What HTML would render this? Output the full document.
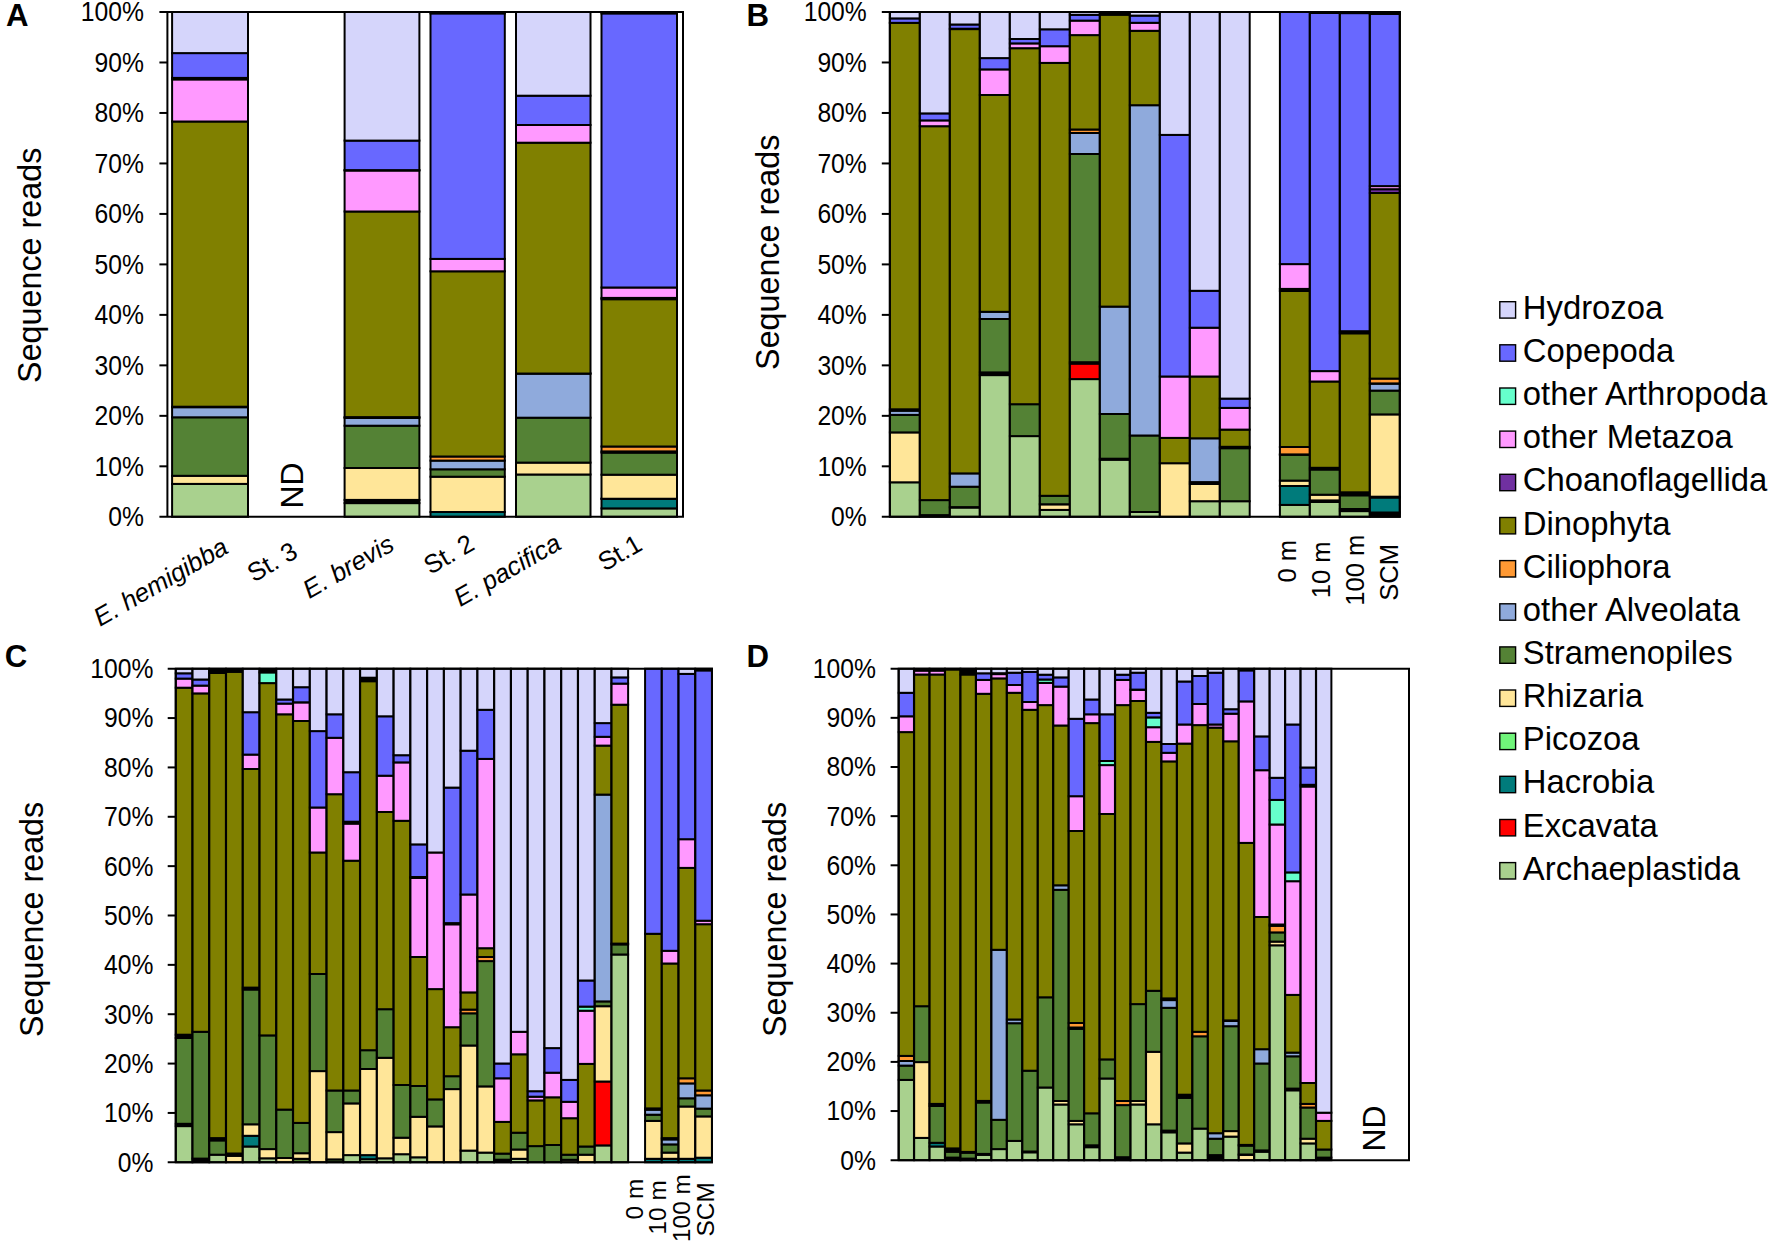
<!DOCTYPE html>
<html lang="en"><head><meta charset="utf-8"><title>Figure</title>
<style>html,body{margin:0;padding:0;background:#fff}svg{display:block}</style></head>
<body>
<svg width="1772" height="1245" viewBox="0 0 1772 1245">
<rect width="1772" height="1245" fill="#fff"/>
<g stroke="#000" stroke-width="2.0">
<rect x="172.10" y="483.90" width="75.90" height="32.90" fill="#A9D18E"/>
<rect x="172.10" y="475.80" width="75.90" height="8.10" fill="#FFE699"/>
<rect x="172.10" y="417.30" width="75.90" height="58.50" fill="#548235"/>
<rect x="172.10" y="407.20" width="75.90" height="10.10" fill="#8FAADC"/>
<rect x="172.10" y="406.70" width="75.90" height="0.50" fill="#000000"/>
<rect x="172.10" y="121.50" width="75.90" height="285.20" fill="#808000"/>
<rect x="172.10" y="79.40" width="75.90" height="42.10" fill="#FF99FF"/>
<rect x="172.10" y="77.90" width="75.90" height="1.50" fill="#000000"/>
<rect x="172.10" y="53.10" width="75.90" height="24.80" fill="#6868FF"/>
<rect x="172.10" y="12.00" width="75.90" height="41.10" fill="#D5D5FB"/>
<rect x="344.60" y="503.10" width="74.80" height="13.70" fill="#A9D18E"/>
<rect x="344.60" y="499.90" width="74.80" height="3.20" fill="#000000"/>
<rect x="344.60" y="468.00" width="74.80" height="31.90" fill="#FFE699"/>
<rect x="344.60" y="425.70" width="74.80" height="42.30" fill="#548235"/>
<rect x="344.60" y="417.90" width="74.80" height="7.80" fill="#8FAADC"/>
<rect x="344.60" y="417.10" width="74.80" height="0.80" fill="#000000"/>
<rect x="344.60" y="211.50" width="74.80" height="205.60" fill="#808000"/>
<rect x="344.60" y="170.50" width="74.80" height="41.00" fill="#FF99FF"/>
<rect x="344.60" y="170.10" width="74.80" height="0.40" fill="#000000"/>
<rect x="344.60" y="140.60" width="74.80" height="29.50" fill="#6868FF"/>
<rect x="344.60" y="12.00" width="74.80" height="128.60" fill="#D5D5FB"/>
<rect x="430.50" y="512.00" width="74.30" height="4.80" fill="#007B7B"/>
<rect x="430.50" y="476.70" width="74.30" height="35.30" fill="#FFE699"/>
<rect x="430.50" y="469.30" width="74.30" height="7.40" fill="#548235"/>
<rect x="430.50" y="460.60" width="74.30" height="8.70" fill="#8FAADC"/>
<rect x="430.50" y="456.50" width="74.30" height="4.10" fill="#FF9933"/>
<rect x="430.50" y="271.30" width="74.30" height="185.20" fill="#808000"/>
<rect x="430.50" y="258.90" width="74.30" height="12.40" fill="#FF99FF"/>
<rect x="430.50" y="13.40" width="74.30" height="245.50" fill="#6868FF"/>
<rect x="430.50" y="12.00" width="74.30" height="1.40" fill="#000000"/>
<rect x="516.00" y="474.50" width="74.50" height="42.30" fill="#A9D18E"/>
<rect x="516.00" y="462.60" width="74.50" height="11.90" fill="#FFE699"/>
<rect x="516.00" y="417.70" width="74.50" height="44.90" fill="#548235"/>
<rect x="516.00" y="373.56" width="74.50" height="44.14" fill="#8FAADC"/>
<rect x="516.00" y="373.54" width="74.50" height="0.02" fill="#000000"/>
<rect x="516.00" y="142.70" width="74.50" height="230.84" fill="#808000"/>
<rect x="516.00" y="125.00" width="74.50" height="17.70" fill="#FF99FF"/>
<rect x="516.00" y="95.70" width="74.50" height="29.30" fill="#6868FF"/>
<rect x="516.00" y="12.00" width="74.50" height="83.70" fill="#D5D5FB"/>
<rect x="601.50" y="508.40" width="75.50" height="8.40" fill="#A9D18E"/>
<rect x="601.50" y="498.76" width="75.50" height="9.64" fill="#007B7B"/>
<rect x="601.50" y="498.74" width="75.50" height="0.02" fill="#000000"/>
<rect x="601.50" y="474.70" width="75.50" height="24.04" fill="#FFE699"/>
<rect x="601.50" y="452.60" width="75.50" height="22.10" fill="#548235"/>
<rect x="601.50" y="451.40" width="75.50" height="1.20" fill="#000000"/>
<rect x="601.50" y="446.50" width="75.50" height="4.90" fill="#FF9933"/>
<rect x="601.50" y="299.20" width="75.50" height="147.30" fill="#808000"/>
<rect x="601.50" y="297.90" width="75.50" height="1.30" fill="#000000"/>
<rect x="601.50" y="287.50" width="75.50" height="10.40" fill="#FF99FF"/>
<rect x="601.50" y="13.40" width="75.50" height="274.10" fill="#6868FF"/>
<rect x="601.50" y="12.00" width="75.50" height="1.40" fill="#000000"/>
</g>
<g stroke="#000" stroke-width="2" fill="none">
<path d="M159.40 12.00H683.00V516.80H159.40"/>
<path d="M167.40 12.00V516.80"/>
<path d="M159.40 466.32H167.40"/>
<path d="M159.40 415.84H167.40"/>
<path d="M159.40 365.36H167.40"/>
<path d="M159.40 314.88H167.40"/>
<path d="M159.40 264.40H167.40"/>
<path d="M159.40 213.92H167.40"/>
<path d="M159.40 163.44H167.40"/>
<path d="M159.40 112.96H167.40"/>
<path d="M159.40 62.48H167.40"/>
</g>
<g font-family="'Liberation Sans', Arial, sans-serif" font-size="27" text-anchor="end" fill="#000">
<text transform="translate(143.9 526.2) scale(0.915 1)">0%</text>
<text transform="translate(143.9 475.7) scale(0.915 1)">10%</text>
<text transform="translate(143.9 425.2) scale(0.915 1)">20%</text>
<text transform="translate(143.9 374.7) scale(0.915 1)">30%</text>
<text transform="translate(143.9 324.2) scale(0.915 1)">40%</text>
<text transform="translate(143.9 273.8) scale(0.915 1)">50%</text>
<text transform="translate(143.9 223.3) scale(0.915 1)">60%</text>
<text transform="translate(143.9 172.8) scale(0.915 1)">70%</text>
<text transform="translate(143.9 122.3) scale(0.915 1)">80%</text>
<text transform="translate(143.9 71.8) scale(0.915 1)">90%</text>
<text transform="translate(143.9 21.4) scale(0.915 1)">100%</text>
</g>
<g stroke="#000" stroke-width="2.0">
<rect x="889.90" y="482.30" width="29.80" height="34.50" fill="#A9D18E"/>
<rect x="889.90" y="432.40" width="29.80" height="49.90" fill="#FFE699"/>
<rect x="889.90" y="414.90" width="29.80" height="17.50" fill="#548235"/>
<rect x="889.90" y="410.70" width="29.80" height="4.20" fill="#8FAADC"/>
<rect x="889.90" y="409.30" width="29.80" height="1.40" fill="#000000"/>
<rect x="889.90" y="22.86" width="29.80" height="386.44" fill="#808000"/>
<rect x="889.90" y="22.84" width="29.80" height="0.02" fill="#000000"/>
<rect x="889.90" y="18.40" width="29.80" height="4.44" fill="#6868FF"/>
<rect x="889.90" y="12.00" width="29.80" height="6.40" fill="#D5D5FB"/>
<rect x="919.90" y="515.10" width="29.80" height="1.70" fill="#000000"/>
<rect x="919.90" y="500.10" width="29.80" height="15.00" fill="#548235"/>
<rect x="919.90" y="126.20" width="29.80" height="373.90" fill="#808000"/>
<rect x="919.90" y="120.40" width="29.80" height="5.80" fill="#FF99FF"/>
<rect x="919.90" y="113.40" width="29.80" height="7.00" fill="#6868FF"/>
<rect x="919.90" y="12.00" width="29.80" height="101.40" fill="#D5D5FB"/>
<rect x="949.90" y="507.50" width="29.80" height="9.30" fill="#A9D18E"/>
<rect x="949.90" y="507.10" width="29.80" height="0.40" fill="#000000"/>
<rect x="949.90" y="486.70" width="29.80" height="20.40" fill="#548235"/>
<rect x="949.90" y="473.40" width="29.80" height="13.30" fill="#8FAADC"/>
<rect x="949.90" y="29.10" width="29.80" height="444.30" fill="#808000"/>
<rect x="949.90" y="28.70" width="29.80" height="0.40" fill="#000000"/>
<rect x="949.90" y="24.50" width="29.80" height="4.20" fill="#6868FF"/>
<rect x="949.90" y="12.00" width="29.80" height="12.50" fill="#D5D5FB"/>
<rect x="979.90" y="375.10" width="29.80" height="141.70" fill="#A9D18E"/>
<rect x="979.90" y="372.40" width="29.80" height="2.70" fill="#000000"/>
<rect x="979.90" y="319.00" width="29.80" height="53.40" fill="#548235"/>
<rect x="979.90" y="311.80" width="29.80" height="7.20" fill="#8FAADC"/>
<rect x="979.90" y="95.00" width="29.80" height="216.80" fill="#808000"/>
<rect x="979.90" y="69.40" width="29.80" height="25.60" fill="#FF99FF"/>
<rect x="979.90" y="58.10" width="29.80" height="11.30" fill="#6868FF"/>
<rect x="979.90" y="12.00" width="29.80" height="46.10" fill="#D5D5FB"/>
<rect x="1009.90" y="436.10" width="29.80" height="80.70" fill="#A9D18E"/>
<rect x="1009.90" y="404.20" width="29.80" height="31.90" fill="#548235"/>
<rect x="1009.90" y="48.20" width="29.80" height="356.00" fill="#808000"/>
<rect x="1009.90" y="43.40" width="29.80" height="4.80" fill="#FF99FF"/>
<rect x="1009.90" y="39.00" width="29.80" height="4.40" fill="#6868FF"/>
<rect x="1009.90" y="12.00" width="29.80" height="27.00" fill="#D5D5FB"/>
<rect x="1039.90" y="509.90" width="29.80" height="6.90" fill="#A9D18E"/>
<rect x="1039.90" y="504.26" width="29.80" height="5.64" fill="#FFE699"/>
<rect x="1039.90" y="504.24" width="29.80" height="0.02" fill="#000000"/>
<rect x="1039.90" y="495.80" width="29.80" height="8.44" fill="#548235"/>
<rect x="1039.90" y="62.90" width="29.80" height="432.90" fill="#808000"/>
<rect x="1039.90" y="46.20" width="29.80" height="16.70" fill="#FF99FF"/>
<rect x="1039.90" y="29.30" width="29.80" height="16.90" fill="#6868FF"/>
<rect x="1039.90" y="12.00" width="29.80" height="17.30" fill="#D5D5FB"/>
<rect x="1069.90" y="379.10" width="29.80" height="137.70" fill="#A9D18E"/>
<rect x="1069.90" y="363.60" width="29.80" height="15.50" fill="#FF0000"/>
<rect x="1069.90" y="362.20" width="29.80" height="1.40" fill="#000000"/>
<rect x="1069.90" y="154.00" width="29.80" height="208.20" fill="#548235"/>
<rect x="1069.90" y="133.00" width="29.80" height="21.00" fill="#8FAADC"/>
<rect x="1069.90" y="129.50" width="29.80" height="3.50" fill="#FF9933"/>
<rect x="1069.90" y="35.10" width="29.80" height="94.40" fill="#808000"/>
<rect x="1069.90" y="20.60" width="29.80" height="14.50" fill="#FF99FF"/>
<rect x="1069.90" y="14.80" width="29.80" height="5.80" fill="#6868FF"/>
<rect x="1069.90" y="12.00" width="29.80" height="2.80" fill="#D5D5FB"/>
<rect x="1099.90" y="459.70" width="29.80" height="57.10" fill="#A9D18E"/>
<rect x="1099.90" y="458.70" width="29.80" height="1.00" fill="#000000"/>
<rect x="1099.90" y="414.00" width="29.80" height="44.70" fill="#548235"/>
<rect x="1099.90" y="306.60" width="29.80" height="107.40" fill="#8FAADC"/>
<rect x="1099.90" y="14.70" width="29.80" height="291.90" fill="#808000"/>
<rect x="1099.90" y="12.00" width="29.80" height="2.70" fill="#000000"/>
<rect x="1129.90" y="512.00" width="29.80" height="4.80" fill="#A9D18E"/>
<rect x="1129.90" y="435.50" width="29.80" height="76.50" fill="#548235"/>
<rect x="1129.90" y="105.20" width="29.80" height="330.30" fill="#8FAADC"/>
<rect x="1129.90" y="30.80" width="29.80" height="74.40" fill="#808000"/>
<rect x="1129.90" y="22.80" width="29.80" height="8.00" fill="#FF99FF"/>
<rect x="1129.90" y="15.60" width="29.80" height="7.20" fill="#6868FF"/>
<rect x="1129.90" y="12.00" width="29.80" height="3.60" fill="#D5D5FB"/>
<rect x="1159.90" y="463.20" width="29.80" height="53.60" fill="#FFE699"/>
<rect x="1159.90" y="437.90" width="29.80" height="25.30" fill="#808000"/>
<rect x="1159.90" y="376.50" width="29.80" height="61.40" fill="#FF99FF"/>
<rect x="1159.90" y="134.90" width="29.80" height="241.60" fill="#6868FF"/>
<rect x="1159.90" y="12.00" width="29.80" height="122.90" fill="#D5D5FB"/>
<rect x="1189.90" y="501.20" width="29.80" height="15.60" fill="#A9D18E"/>
<rect x="1189.90" y="484.00" width="29.80" height="17.20" fill="#FFE699"/>
<rect x="1189.90" y="482.10" width="29.80" height="1.90" fill="#000000"/>
<rect x="1189.90" y="438.30" width="29.80" height="43.80" fill="#8FAADC"/>
<rect x="1189.90" y="376.50" width="29.80" height="61.80" fill="#808000"/>
<rect x="1189.90" y="327.70" width="29.80" height="48.80" fill="#FF99FF"/>
<rect x="1189.90" y="290.80" width="29.80" height="36.90" fill="#6868FF"/>
<rect x="1189.90" y="12.00" width="29.80" height="278.80" fill="#D5D5FB"/>
<rect x="1219.90" y="501.20" width="29.80" height="15.60" fill="#A9D18E"/>
<rect x="1219.90" y="448.20" width="29.80" height="53.00" fill="#548235"/>
<rect x="1219.90" y="446.80" width="29.80" height="1.40" fill="#000000"/>
<rect x="1219.90" y="429.60" width="29.80" height="17.20" fill="#808000"/>
<rect x="1219.90" y="407.90" width="29.80" height="21.70" fill="#FF99FF"/>
<rect x="1219.90" y="398.60" width="29.80" height="9.30" fill="#6868FF"/>
<rect x="1219.90" y="12.00" width="29.80" height="386.60" fill="#D5D5FB"/>
<rect x="1279.90" y="504.90" width="29.80" height="11.90" fill="#A9D18E"/>
<rect x="1279.90" y="486.00" width="29.80" height="18.90" fill="#007B7B"/>
<rect x="1279.90" y="480.60" width="29.80" height="5.40" fill="#FFE699"/>
<rect x="1279.90" y="454.70" width="29.80" height="25.90" fill="#548235"/>
<rect x="1279.90" y="454.40" width="29.80" height="0.30" fill="#000000"/>
<rect x="1279.90" y="447.00" width="29.80" height="7.40" fill="#FF9933"/>
<rect x="1279.90" y="291.00" width="29.80" height="156.00" fill="#808000"/>
<rect x="1279.90" y="288.90" width="29.80" height="2.10" fill="#000000"/>
<rect x="1279.90" y="264.10" width="29.80" height="24.80" fill="#FF99FF"/>
<rect x="1279.90" y="12.00" width="29.80" height="252.10" fill="#6868FF"/>
<rect x="1309.90" y="502.00" width="29.80" height="14.80" fill="#A9D18E"/>
<rect x="1309.90" y="500.40" width="29.80" height="1.60" fill="#000000"/>
<rect x="1309.90" y="494.70" width="29.80" height="5.70" fill="#FFE699"/>
<rect x="1309.90" y="469.50" width="29.80" height="25.20" fill="#548235"/>
<rect x="1309.90" y="467.80" width="29.80" height="1.70" fill="#000000"/>
<rect x="1309.90" y="381.50" width="29.80" height="86.30" fill="#808000"/>
<rect x="1309.90" y="371.10" width="29.80" height="10.40" fill="#FF99FF"/>
<rect x="1309.90" y="13.00" width="29.80" height="358.10" fill="#6868FF"/>
<rect x="1339.90" y="511.10" width="29.80" height="5.70" fill="#A9D18E"/>
<rect x="1339.90" y="509.00" width="29.80" height="2.10" fill="#000000"/>
<rect x="1339.90" y="495.30" width="29.80" height="13.70" fill="#548235"/>
<rect x="1339.90" y="492.30" width="29.80" height="3.00" fill="#000000"/>
<rect x="1339.90" y="333.30" width="29.80" height="159.00" fill="#808000"/>
<rect x="1339.90" y="331.20" width="29.80" height="2.10" fill="#000000"/>
<rect x="1339.90" y="13.10" width="29.80" height="318.10" fill="#6868FF"/>
<rect x="1339.90" y="12.00" width="29.80" height="1.10" fill="#000000"/>
<rect x="1369.90" y="512.50" width="29.80" height="4.30" fill="#000000"/>
<rect x="1369.90" y="497.50" width="29.80" height="15.00" fill="#007B7B"/>
<rect x="1369.90" y="496.70" width="29.80" height="0.80" fill="#000000"/>
<rect x="1369.90" y="414.40" width="29.80" height="82.30" fill="#FFE699"/>
<rect x="1369.90" y="390.60" width="29.80" height="23.80" fill="#548235"/>
<rect x="1369.90" y="383.60" width="29.80" height="7.00" fill="#8FAADC"/>
<rect x="1369.90" y="383.40" width="29.80" height="0.20" fill="#000000"/>
<rect x="1369.90" y="378.60" width="29.80" height="4.80" fill="#FF9933"/>
<rect x="1369.90" y="193.00" width="29.80" height="185.60" fill="#808000"/>
<rect x="1369.90" y="189.20" width="29.80" height="3.80" fill="#7030A0"/>
<rect x="1369.90" y="186.10" width="29.80" height="3.10" fill="#FF99FF"/>
<rect x="1369.90" y="13.90" width="29.80" height="172.20" fill="#6868FF"/>
<rect x="1369.90" y="12.00" width="29.80" height="1.90" fill="#000000"/>
</g>
<g stroke="#000" stroke-width="2" fill="none">
<path d="M881.80 12.00H1399.90V516.80H881.80"/>
<path d="M889.80 12.00V516.80"/>
<path d="M881.80 466.32H889.80"/>
<path d="M881.80 415.84H889.80"/>
<path d="M881.80 365.36H889.80"/>
<path d="M881.80 314.88H889.80"/>
<path d="M881.80 264.40H889.80"/>
<path d="M881.80 213.92H889.80"/>
<path d="M881.80 163.44H889.80"/>
<path d="M881.80 112.96H889.80"/>
<path d="M881.80 62.48H889.80"/>
</g>
<g font-family="'Liberation Sans', Arial, sans-serif" font-size="27" text-anchor="end" fill="#000">
<text transform="translate(866.8 526.2) scale(0.915 1)">0%</text>
<text transform="translate(866.8 475.7) scale(0.915 1)">10%</text>
<text transform="translate(866.8 425.2) scale(0.915 1)">20%</text>
<text transform="translate(866.8 374.7) scale(0.915 1)">30%</text>
<text transform="translate(866.8 324.2) scale(0.915 1)">40%</text>
<text transform="translate(866.8 273.8) scale(0.915 1)">50%</text>
<text transform="translate(866.8 223.3) scale(0.915 1)">60%</text>
<text transform="translate(866.8 172.8) scale(0.915 1)">70%</text>
<text transform="translate(866.8 122.3) scale(0.915 1)">80%</text>
<text transform="translate(866.8 71.8) scale(0.915 1)">90%</text>
<text transform="translate(866.8 21.4) scale(0.915 1)">100%</text>
</g>
<g stroke="#000" stroke-width="2.0">
<rect x="175.80" y="1126.10" width="16.56" height="36.20" fill="#A9D18E"/>
<rect x="175.80" y="1123.80" width="16.56" height="2.30" fill="#000000"/>
<rect x="175.80" y="1038.00" width="16.56" height="85.80" fill="#548235"/>
<rect x="175.80" y="1034.70" width="16.56" height="3.30" fill="#000000"/>
<rect x="175.80" y="687.70" width="16.56" height="347.00" fill="#808000"/>
<rect x="175.80" y="678.60" width="16.56" height="9.10" fill="#FF99FF"/>
<rect x="175.80" y="673.30" width="16.56" height="5.30" fill="#6868FF"/>
<rect x="175.80" y="668.70" width="16.56" height="4.60" fill="#D5D5FB"/>
<rect x="192.56" y="1158.60" width="16.56" height="3.70" fill="#000000"/>
<rect x="192.56" y="1031.80" width="16.56" height="126.80" fill="#548235"/>
<rect x="192.56" y="693.40" width="16.56" height="338.40" fill="#808000"/>
<rect x="192.56" y="685.60" width="16.56" height="7.80" fill="#FF99FF"/>
<rect x="192.56" y="679.50" width="16.56" height="6.10" fill="#6868FF"/>
<rect x="192.56" y="668.70" width="16.56" height="10.80" fill="#D5D5FB"/>
<rect x="209.32" y="1154.70" width="16.56" height="7.60" fill="#A9D18E"/>
<rect x="209.32" y="1140.40" width="16.56" height="14.30" fill="#548235"/>
<rect x="209.32" y="1138.10" width="16.56" height="2.30" fill="#000000"/>
<rect x="209.32" y="673.00" width="16.56" height="465.10" fill="#808000"/>
<rect x="209.32" y="668.70" width="16.56" height="4.30" fill="#000000"/>
<rect x="226.08" y="1155.80" width="16.56" height="6.50" fill="#FFE699"/>
<rect x="226.08" y="1153.50" width="16.56" height="2.30" fill="#000000"/>
<rect x="226.08" y="671.80" width="16.56" height="481.70" fill="#808000"/>
<rect x="226.08" y="668.70" width="16.56" height="3.10" fill="#000000"/>
<rect x="242.84" y="1146.50" width="16.56" height="15.80" fill="#A9D18E"/>
<rect x="242.84" y="1135.80" width="16.56" height="10.70" fill="#007B7B"/>
<rect x="242.84" y="1124.30" width="16.56" height="11.50" fill="#FFE699"/>
<rect x="242.84" y="989.50" width="16.56" height="134.80" fill="#548235"/>
<rect x="242.84" y="987.60" width="16.56" height="1.90" fill="#000000"/>
<rect x="242.84" y="769.00" width="16.56" height="218.60" fill="#808000"/>
<rect x="242.84" y="754.60" width="16.56" height="14.40" fill="#FF99FF"/>
<rect x="242.84" y="712.20" width="16.56" height="42.40" fill="#6868FF"/>
<rect x="242.84" y="668.70" width="16.56" height="43.50" fill="#D5D5FB"/>
<rect x="259.60" y="1158.30" width="16.56" height="4.00" fill="#A9D18E"/>
<rect x="259.60" y="1149.10" width="16.56" height="9.20" fill="#FFE699"/>
<rect x="259.60" y="1035.40" width="16.56" height="113.70" fill="#548235"/>
<rect x="259.60" y="683.10" width="16.56" height="352.30" fill="#808000"/>
<rect x="259.60" y="672.40" width="16.56" height="10.70" fill="#66FFCC"/>
<rect x="259.60" y="668.70" width="16.56" height="3.70" fill="#000000"/>
<rect x="276.36" y="1158.00" width="16.56" height="4.30" fill="#FFE699"/>
<rect x="276.36" y="1109.60" width="16.56" height="48.40" fill="#548235"/>
<rect x="276.36" y="714.30" width="16.56" height="395.30" fill="#808000"/>
<rect x="276.36" y="703.60" width="16.56" height="10.70" fill="#FF99FF"/>
<rect x="276.36" y="699.50" width="16.56" height="4.10" fill="#6868FF"/>
<rect x="276.36" y="668.70" width="16.56" height="30.80" fill="#D5D5FB"/>
<rect x="293.12" y="1158.80" width="16.56" height="3.50" fill="#548235"/>
<rect x="293.12" y="1153.20" width="16.56" height="5.60" fill="#FFE699"/>
<rect x="293.12" y="1122.90" width="16.56" height="30.30" fill="#548235"/>
<rect x="293.12" y="721.00" width="16.56" height="401.90" fill="#808000"/>
<rect x="293.12" y="702.31" width="16.56" height="18.69" fill="#FF99FF"/>
<rect x="293.12" y="702.29" width="16.56" height="0.02" fill="#000000"/>
<rect x="293.12" y="687.20" width="16.56" height="15.09" fill="#6868FF"/>
<rect x="293.12" y="668.70" width="16.56" height="18.50" fill="#D5D5FB"/>
<rect x="309.88" y="1071.10" width="16.56" height="91.20" fill="#FFE699"/>
<rect x="309.88" y="974.00" width="16.56" height="97.10" fill="#548235"/>
<rect x="309.88" y="852.50" width="16.56" height="121.50" fill="#808000"/>
<rect x="309.88" y="807.50" width="16.56" height="45.00" fill="#FF99FF"/>
<rect x="309.88" y="731.10" width="16.56" height="76.40" fill="#6868FF"/>
<rect x="309.88" y="668.70" width="16.56" height="62.40" fill="#D5D5FB"/>
<rect x="326.64" y="1159.40" width="16.56" height="2.90" fill="#548235"/>
<rect x="326.64" y="1132.10" width="16.56" height="27.30" fill="#FFE699"/>
<rect x="326.64" y="1090.50" width="16.56" height="41.60" fill="#548235"/>
<rect x="326.64" y="794.20" width="16.56" height="296.30" fill="#808000"/>
<rect x="326.64" y="737.80" width="16.56" height="56.40" fill="#FF99FF"/>
<rect x="326.64" y="714.30" width="16.56" height="23.50" fill="#6868FF"/>
<rect x="326.64" y="668.70" width="16.56" height="45.60" fill="#D5D5FB"/>
<rect x="343.40" y="1155.10" width="16.56" height="7.20" fill="#A9D18E"/>
<rect x="343.40" y="1103.40" width="16.56" height="51.70" fill="#FFE699"/>
<rect x="343.40" y="1090.50" width="16.56" height="12.90" fill="#548235"/>
<rect x="343.40" y="860.70" width="16.56" height="229.80" fill="#808000"/>
<rect x="343.40" y="823.60" width="16.56" height="37.10" fill="#FF99FF"/>
<rect x="343.40" y="821.70" width="16.56" height="1.90" fill="#000000"/>
<rect x="343.40" y="772.20" width="16.56" height="49.50" fill="#6868FF"/>
<rect x="343.40" y="668.70" width="16.56" height="103.50" fill="#D5D5FB"/>
<rect x="360.16" y="1159.20" width="16.56" height="3.10" fill="#A9D18E"/>
<rect x="360.16" y="1155.10" width="16.56" height="4.10" fill="#007B7B"/>
<rect x="360.16" y="1069.00" width="16.56" height="86.10" fill="#FFE699"/>
<rect x="360.16" y="1050.20" width="16.56" height="18.80" fill="#548235"/>
<rect x="360.16" y="681.20" width="16.56" height="369.00" fill="#808000"/>
<rect x="360.16" y="677.70" width="16.56" height="3.50" fill="#000000"/>
<rect x="360.16" y="668.70" width="16.56" height="9.00" fill="#D5D5FB"/>
<rect x="376.92" y="1158.30" width="16.56" height="4.00" fill="#A9D18E"/>
<rect x="376.92" y="1057.80" width="16.56" height="100.50" fill="#FFE699"/>
<rect x="376.92" y="1009.20" width="16.56" height="48.60" fill="#548235"/>
<rect x="376.92" y="812.00" width="16.56" height="197.20" fill="#808000"/>
<rect x="376.92" y="775.70" width="16.56" height="36.30" fill="#FF99FF"/>
<rect x="376.92" y="716.30" width="16.56" height="59.40" fill="#6868FF"/>
<rect x="376.92" y="668.70" width="16.56" height="47.60" fill="#D5D5FB"/>
<rect x="393.68" y="1154.20" width="16.56" height="8.10" fill="#A9D18E"/>
<rect x="393.68" y="1137.70" width="16.56" height="16.50" fill="#FFE699"/>
<rect x="393.68" y="1085.00" width="16.56" height="52.70" fill="#548235"/>
<rect x="393.68" y="820.80" width="16.56" height="264.20" fill="#808000"/>
<rect x="393.68" y="762.40" width="16.56" height="58.40" fill="#FF99FF"/>
<rect x="393.68" y="755.20" width="16.56" height="7.20" fill="#6868FF"/>
<rect x="393.68" y="668.70" width="16.56" height="86.50" fill="#D5D5FB"/>
<rect x="410.44" y="1157.30" width="16.56" height="5.00" fill="#A9D18E"/>
<rect x="410.44" y="1116.80" width="16.56" height="40.50" fill="#FFE699"/>
<rect x="410.44" y="1086.00" width="16.56" height="30.80" fill="#548235"/>
<rect x="410.44" y="957.00" width="16.56" height="129.00" fill="#808000"/>
<rect x="410.44" y="877.90" width="16.56" height="79.10" fill="#FF99FF"/>
<rect x="410.44" y="877.00" width="16.56" height="0.90" fill="#000000"/>
<rect x="410.44" y="844.40" width="16.56" height="32.60" fill="#6868FF"/>
<rect x="410.44" y="668.70" width="16.56" height="175.70" fill="#D5D5FB"/>
<rect x="427.20" y="1126.40" width="16.56" height="35.90" fill="#FFE699"/>
<rect x="427.20" y="1099.40" width="16.56" height="27.00" fill="#548235"/>
<rect x="427.20" y="989.10" width="16.56" height="110.30" fill="#808000"/>
<rect x="427.20" y="852.50" width="16.56" height="136.60" fill="#FF99FF"/>
<rect x="427.20" y="668.70" width="16.56" height="183.80" fill="#D5D5FB"/>
<rect x="443.96" y="1089.10" width="16.56" height="73.20" fill="#FFE699"/>
<rect x="443.96" y="1076.20" width="16.56" height="12.90" fill="#548235"/>
<rect x="443.96" y="1027.20" width="16.56" height="49.00" fill="#808000"/>
<rect x="443.96" y="924.30" width="16.56" height="102.90" fill="#FF99FF"/>
<rect x="443.96" y="923.10" width="16.56" height="1.20" fill="#000000"/>
<rect x="443.96" y="787.60" width="16.56" height="135.50" fill="#6868FF"/>
<rect x="443.96" y="668.70" width="16.56" height="118.90" fill="#D5D5FB"/>
<rect x="460.72" y="1150.60" width="16.56" height="11.70" fill="#A9D18E"/>
<rect x="460.72" y="1045.50" width="16.56" height="105.10" fill="#FFE699"/>
<rect x="460.72" y="1013.30" width="16.56" height="32.20" fill="#548235"/>
<rect x="460.72" y="1009.60" width="16.56" height="3.70" fill="#FF9933"/>
<rect x="460.72" y="992.40" width="16.56" height="17.20" fill="#808000"/>
<rect x="460.72" y="894.50" width="16.56" height="97.90" fill="#FF99FF"/>
<rect x="460.72" y="750.70" width="16.56" height="143.80" fill="#6868FF"/>
<rect x="460.72" y="668.70" width="16.56" height="82.00" fill="#D5D5FB"/>
<rect x="477.48" y="1152.60" width="16.56" height="9.70" fill="#A9D18E"/>
<rect x="477.48" y="1086.40" width="16.56" height="66.20" fill="#FFE699"/>
<rect x="477.48" y="961.10" width="16.56" height="125.30" fill="#548235"/>
<rect x="477.48" y="957.00" width="16.56" height="4.10" fill="#FF9933"/>
<rect x="477.48" y="948.20" width="16.56" height="8.80" fill="#808000"/>
<rect x="477.48" y="758.90" width="16.56" height="189.30" fill="#FF99FF"/>
<rect x="477.48" y="709.80" width="16.56" height="49.10" fill="#6868FF"/>
<rect x="477.48" y="668.70" width="16.56" height="41.10" fill="#D5D5FB"/>
<rect x="494.24" y="1159.70" width="16.56" height="2.60" fill="#000000"/>
<rect x="494.24" y="1153.60" width="16.56" height="6.10" fill="#548235"/>
<rect x="494.24" y="1121.90" width="16.56" height="31.70" fill="#808000"/>
<rect x="494.24" y="1078.30" width="16.56" height="43.60" fill="#FF99FF"/>
<rect x="494.24" y="1063.50" width="16.56" height="14.80" fill="#6868FF"/>
<rect x="494.24" y="668.70" width="16.56" height="394.80" fill="#D5D5FB"/>
<rect x="511.00" y="1158.80" width="16.56" height="3.50" fill="#A9D18E"/>
<rect x="511.00" y="1149.50" width="16.56" height="9.30" fill="#FFE699"/>
<rect x="511.00" y="1132.70" width="16.56" height="16.80" fill="#548235"/>
<rect x="511.00" y="1054.30" width="16.56" height="78.40" fill="#808000"/>
<rect x="511.00" y="1031.80" width="16.56" height="22.50" fill="#FF99FF"/>
<rect x="511.00" y="668.70" width="16.56" height="363.10" fill="#D5D5FB"/>
<rect x="527.76" y="1146.10" width="16.56" height="16.20" fill="#548235"/>
<rect x="527.76" y="1100.40" width="16.56" height="45.70" fill="#808000"/>
<rect x="527.76" y="1096.70" width="16.56" height="3.70" fill="#FF99FF"/>
<rect x="527.76" y="1091.20" width="16.56" height="5.50" fill="#6868FF"/>
<rect x="527.76" y="668.70" width="16.56" height="422.50" fill="#D5D5FB"/>
<rect x="544.52" y="1145.00" width="16.56" height="17.30" fill="#548235"/>
<rect x="544.52" y="1097.30" width="16.56" height="47.70" fill="#808000"/>
<rect x="544.52" y="1072.70" width="16.56" height="24.60" fill="#FF99FF"/>
<rect x="544.52" y="1048.10" width="16.56" height="24.60" fill="#6868FF"/>
<rect x="544.52" y="668.70" width="16.56" height="379.40" fill="#D5D5FB"/>
<rect x="561.28" y="1159.80" width="16.56" height="2.50" fill="#FFE699"/>
<rect x="561.28" y="1154.70" width="16.56" height="5.10" fill="#548235"/>
<rect x="561.28" y="1118.20" width="16.56" height="36.50" fill="#808000"/>
<rect x="561.28" y="1101.80" width="16.56" height="16.40" fill="#FF99FF"/>
<rect x="561.28" y="1079.90" width="16.56" height="21.90" fill="#6868FF"/>
<rect x="561.28" y="668.70" width="16.56" height="411.20" fill="#D5D5FB"/>
<rect x="578.04" y="1154.70" width="16.56" height="7.60" fill="#FFE699"/>
<rect x="578.04" y="1146.50" width="16.56" height="8.20" fill="#548235"/>
<rect x="578.04" y="1063.90" width="16.56" height="82.60" fill="#808000"/>
<rect x="578.04" y="1010.70" width="16.56" height="53.20" fill="#FF99FF"/>
<rect x="578.04" y="1006.60" width="16.56" height="4.10" fill="#66FFCC"/>
<rect x="578.04" y="980.50" width="16.56" height="26.10" fill="#6868FF"/>
<rect x="578.04" y="668.70" width="16.56" height="311.80" fill="#D5D5FB"/>
<rect x="594.80" y="1145.40" width="16.56" height="16.90" fill="#A9D18E"/>
<rect x="594.80" y="1081.50" width="16.56" height="63.90" fill="#FF0000"/>
<rect x="594.80" y="1006.20" width="16.56" height="75.30" fill="#FFE699"/>
<rect x="594.80" y="1001.40" width="16.56" height="4.80" fill="#548235"/>
<rect x="594.80" y="794.60" width="16.56" height="206.80" fill="#8FAADC"/>
<rect x="594.80" y="745.60" width="16.56" height="49.00" fill="#808000"/>
<rect x="594.80" y="736.80" width="16.56" height="8.80" fill="#FF99FF"/>
<rect x="594.80" y="723.10" width="16.56" height="13.70" fill="#6868FF"/>
<rect x="594.80" y="668.70" width="16.56" height="54.40" fill="#D5D5FB"/>
<rect x="611.56" y="954.50" width="16.56" height="207.80" fill="#A9D18E"/>
<rect x="611.56" y="944.40" width="16.56" height="10.10" fill="#548235"/>
<rect x="611.56" y="943.60" width="16.56" height="0.80" fill="#000000"/>
<rect x="611.56" y="704.70" width="16.56" height="238.90" fill="#808000"/>
<rect x="611.56" y="683.60" width="16.56" height="21.10" fill="#FF99FF"/>
<rect x="611.56" y="677.40" width="16.56" height="6.20" fill="#6868FF"/>
<rect x="611.56" y="668.70" width="16.56" height="8.70" fill="#D5D5FB"/>
<rect x="645.08" y="1158.80" width="16.56" height="3.50" fill="#007B7B"/>
<rect x="645.08" y="1120.90" width="16.56" height="37.90" fill="#FFE699"/>
<rect x="645.08" y="1114.70" width="16.56" height="6.20" fill="#548235"/>
<rect x="645.08" y="1109.70" width="16.56" height="5.00" fill="#8FAADC"/>
<rect x="645.08" y="1108.40" width="16.56" height="1.30" fill="#000000"/>
<rect x="645.08" y="933.80" width="16.56" height="174.60" fill="#808000"/>
<rect x="645.08" y="668.70" width="16.56" height="265.10" fill="#6868FF"/>
<rect x="661.84" y="1158.80" width="16.56" height="3.50" fill="#007B7B"/>
<rect x="661.84" y="1152.60" width="16.56" height="6.20" fill="#FFE699"/>
<rect x="661.84" y="1144.40" width="16.56" height="8.20" fill="#548235"/>
<rect x="661.84" y="1139.40" width="16.56" height="5.00" fill="#8FAADC"/>
<rect x="661.84" y="1138.10" width="16.56" height="1.30" fill="#000000"/>
<rect x="661.84" y="963.50" width="16.56" height="174.60" fill="#808000"/>
<rect x="661.84" y="950.80" width="16.56" height="12.70" fill="#FF99FF"/>
<rect x="661.84" y="668.70" width="16.56" height="282.10" fill="#6868FF"/>
<rect x="678.60" y="1158.80" width="16.56" height="3.50" fill="#007B7B"/>
<rect x="678.60" y="1106.50" width="16.56" height="52.30" fill="#FFE699"/>
<rect x="678.60" y="1098.30" width="16.56" height="8.20" fill="#548235"/>
<rect x="678.60" y="1083.40" width="16.56" height="14.90" fill="#8FAADC"/>
<rect x="678.60" y="1078.30" width="16.56" height="5.10" fill="#FF9933"/>
<rect x="678.60" y="867.90" width="16.56" height="210.40" fill="#808000"/>
<rect x="678.60" y="839.20" width="16.56" height="28.70" fill="#FF99FF"/>
<rect x="678.60" y="673.90" width="16.56" height="165.30" fill="#6868FF"/>
<rect x="678.60" y="668.70" width="16.56" height="5.20" fill="#D5D5FB"/>
<rect x="695.36" y="1157.70" width="16.56" height="4.60" fill="#007B7B"/>
<rect x="695.36" y="1116.40" width="16.56" height="41.30" fill="#FFE699"/>
<rect x="695.36" y="1108.60" width="16.56" height="7.80" fill="#548235"/>
<rect x="695.36" y="1095.30" width="16.56" height="13.30" fill="#8FAADC"/>
<rect x="695.36" y="1090.50" width="16.56" height="4.80" fill="#FF9933"/>
<rect x="695.36" y="924.20" width="16.56" height="166.30" fill="#808000"/>
<rect x="695.36" y="920.70" width="16.56" height="3.50" fill="#FF99FF"/>
<rect x="695.36" y="670.40" width="16.56" height="250.30" fill="#6868FF"/>
<rect x="695.36" y="668.70" width="16.56" height="1.70" fill="#000000"/>
</g>
<g stroke="#000" stroke-width="2" fill="none">
<path d="M167.70 668.70H712.00V1162.30H167.70"/>
<path d="M175.70 668.70V1162.30"/>
<path d="M167.70 1112.94H175.70"/>
<path d="M167.70 1063.58H175.70"/>
<path d="M167.70 1014.22H175.70"/>
<path d="M167.70 964.86H175.70"/>
<path d="M167.70 915.50H175.70"/>
<path d="M167.70 866.14H175.70"/>
<path d="M167.70 816.78H175.70"/>
<path d="M167.70 767.42H175.70"/>
<path d="M167.70 718.06H175.70"/>
</g>
<g font-family="'Liberation Sans', Arial, sans-serif" font-size="27" text-anchor="end" fill="#000">
<text transform="translate(153.4 1171.7) scale(0.915 1)">0%</text>
<text transform="translate(153.4 1122.3) scale(0.915 1)">10%</text>
<text transform="translate(153.4 1072.9) scale(0.915 1)">20%</text>
<text transform="translate(153.4 1023.6) scale(0.915 1)">30%</text>
<text transform="translate(153.4 974.2) scale(0.915 1)">40%</text>
<text transform="translate(153.4 924.9) scale(0.915 1)">50%</text>
<text transform="translate(153.4 875.5) scale(0.915 1)">60%</text>
<text transform="translate(153.4 826.1) scale(0.915 1)">70%</text>
<text transform="translate(153.4 776.8) scale(0.915 1)">80%</text>
<text transform="translate(153.4 727.4) scale(0.915 1)">90%</text>
<text transform="translate(153.4 678.1) scale(0.915 1)">100%</text>
</g>
<g stroke="#000" stroke-width="2.0">
<rect x="898.70" y="1079.90" width="15.26" height="80.30" fill="#A9D18E"/>
<rect x="898.70" y="1065.60" width="15.26" height="14.30" fill="#548235"/>
<rect x="898.70" y="1061.00" width="15.26" height="4.60" fill="#8FAADC"/>
<rect x="898.70" y="1055.90" width="15.26" height="5.10" fill="#FF9933"/>
<rect x="898.70" y="732.10" width="15.26" height="323.80" fill="#808000"/>
<rect x="898.70" y="716.30" width="15.26" height="15.80" fill="#FF99FF"/>
<rect x="898.70" y="692.80" width="15.26" height="23.50" fill="#6868FF"/>
<rect x="898.70" y="668.70" width="15.26" height="24.10" fill="#D5D5FB"/>
<rect x="914.16" y="1137.90" width="15.26" height="22.30" fill="#A9D18E"/>
<rect x="914.16" y="1062.10" width="15.26" height="75.80" fill="#FFE699"/>
<rect x="914.16" y="1006.20" width="15.26" height="55.90" fill="#548235"/>
<rect x="914.16" y="674.50" width="15.26" height="331.70" fill="#808000"/>
<rect x="914.16" y="670.60" width="15.26" height="3.90" fill="#FF99FF"/>
<rect x="914.16" y="668.70" width="15.26" height="1.90" fill="#000000"/>
<rect x="929.62" y="1146.50" width="15.26" height="13.70" fill="#A9D18E"/>
<rect x="929.62" y="1142.80" width="15.26" height="3.70" fill="#007B7B"/>
<rect x="929.62" y="1106.00" width="15.26" height="36.80" fill="#548235"/>
<rect x="929.62" y="1103.90" width="15.26" height="2.10" fill="#000000"/>
<rect x="929.62" y="674.50" width="15.26" height="429.40" fill="#808000"/>
<rect x="929.62" y="670.60" width="15.26" height="3.90" fill="#FF99FF"/>
<rect x="929.62" y="668.70" width="15.26" height="1.90" fill="#000000"/>
<rect x="945.08" y="1157.60" width="15.26" height="2.60" fill="#000000"/>
<rect x="945.08" y="1151.70" width="15.26" height="5.90" fill="#548235"/>
<rect x="945.08" y="1148.40" width="15.26" height="3.30" fill="#000000"/>
<rect x="945.08" y="669.46" width="15.26" height="478.94" fill="#808000"/>
<rect x="945.08" y="668.70" width="15.26" height="0.76" fill="#000000"/>
<rect x="960.54" y="1158.60" width="15.26" height="1.60" fill="#000000"/>
<rect x="960.54" y="1152.70" width="15.26" height="5.90" fill="#548235"/>
<rect x="960.54" y="1151.90" width="15.26" height="0.80" fill="#000000"/>
<rect x="960.54" y="674.50" width="15.26" height="477.40" fill="#808000"/>
<rect x="960.54" y="668.70" width="15.26" height="5.80" fill="#000000"/>
<rect x="976.00" y="1154.80" width="15.26" height="5.40" fill="#A9D18E"/>
<rect x="976.00" y="1153.90" width="15.26" height="0.90" fill="#000000"/>
<rect x="976.00" y="1102.50" width="15.26" height="51.40" fill="#548235"/>
<rect x="976.00" y="1100.90" width="15.26" height="1.60" fill="#000000"/>
<rect x="976.00" y="693.80" width="15.26" height="407.10" fill="#808000"/>
<rect x="976.00" y="679.90" width="15.26" height="13.90" fill="#FF99FF"/>
<rect x="976.00" y="673.30" width="15.26" height="6.60" fill="#6868FF"/>
<rect x="976.00" y="668.70" width="15.26" height="4.60" fill="#D5D5FB"/>
<rect x="991.46" y="1149.10" width="15.26" height="11.10" fill="#A9D18E"/>
<rect x="991.46" y="1119.80" width="15.26" height="29.30" fill="#548235"/>
<rect x="991.46" y="949.80" width="15.26" height="170.00" fill="#8FAADC"/>
<rect x="991.46" y="678.40" width="15.26" height="271.40" fill="#808000"/>
<rect x="991.46" y="674.10" width="15.26" height="4.30" fill="#FF99FF"/>
<rect x="991.46" y="673.20" width="15.26" height="0.90" fill="#000000"/>
<rect x="991.46" y="668.70" width="15.26" height="4.50" fill="#D5D5FB"/>
<rect x="1006.92" y="1140.90" width="15.26" height="19.30" fill="#A9D18E"/>
<rect x="1006.92" y="1023.20" width="15.26" height="117.70" fill="#548235"/>
<rect x="1006.92" y="1019.50" width="15.26" height="3.70" fill="#8FAADC"/>
<rect x="1006.92" y="692.80" width="15.26" height="326.70" fill="#808000"/>
<rect x="1006.92" y="685.00" width="15.26" height="7.80" fill="#FF99FF"/>
<rect x="1006.92" y="672.70" width="15.26" height="12.30" fill="#6868FF"/>
<rect x="1006.92" y="668.70" width="15.26" height="4.00" fill="#D5D5FB"/>
<rect x="1022.38" y="1152.30" width="15.26" height="7.90" fill="#A9D18E"/>
<rect x="1022.38" y="1151.50" width="15.26" height="0.80" fill="#000000"/>
<rect x="1022.38" y="1070.70" width="15.26" height="80.80" fill="#548235"/>
<rect x="1022.38" y="709.80" width="15.26" height="360.90" fill="#808000"/>
<rect x="1022.38" y="702.00" width="15.26" height="7.80" fill="#FF99FF"/>
<rect x="1022.38" y="671.90" width="15.26" height="30.10" fill="#6868FF"/>
<rect x="1022.38" y="668.70" width="15.26" height="3.20" fill="#D5D5FB"/>
<rect x="1037.84" y="1087.50" width="15.26" height="72.70" fill="#A9D18E"/>
<rect x="1037.84" y="997.30" width="15.26" height="90.20" fill="#548235"/>
<rect x="1037.84" y="705.10" width="15.26" height="292.20" fill="#808000"/>
<rect x="1037.84" y="682.90" width="15.26" height="22.20" fill="#FF99FF"/>
<rect x="1037.84" y="679.50" width="15.26" height="3.40" fill="#66FFCC"/>
<rect x="1037.84" y="674.70" width="15.26" height="4.80" fill="#6868FF"/>
<rect x="1037.84" y="668.70" width="15.26" height="6.00" fill="#D5D5FB"/>
<rect x="1053.30" y="1104.50" width="15.26" height="55.70" fill="#A9D18E"/>
<rect x="1053.30" y="1101.00" width="15.26" height="3.50" fill="#FFE699"/>
<rect x="1053.30" y="889.80" width="15.26" height="211.20" fill="#548235"/>
<rect x="1053.30" y="885.30" width="15.26" height="4.50" fill="#8FAADC"/>
<rect x="1053.30" y="725.50" width="15.26" height="159.80" fill="#808000"/>
<rect x="1053.30" y="686.60" width="15.26" height="38.90" fill="#FF99FF"/>
<rect x="1053.30" y="677.40" width="15.26" height="9.20" fill="#6868FF"/>
<rect x="1053.30" y="668.70" width="15.26" height="8.70" fill="#D5D5FB"/>
<rect x="1068.76" y="1124.30" width="15.26" height="35.90" fill="#A9D18E"/>
<rect x="1068.76" y="1120.90" width="15.26" height="3.40" fill="#FFE699"/>
<rect x="1068.76" y="1028.80" width="15.26" height="92.10" fill="#548235"/>
<rect x="1068.76" y="1027.50" width="15.26" height="1.30" fill="#000000"/>
<rect x="1068.76" y="1023.00" width="15.26" height="4.50" fill="#FF9933"/>
<rect x="1068.76" y="831.00" width="15.26" height="192.00" fill="#808000"/>
<rect x="1068.76" y="796.20" width="15.26" height="34.80" fill="#FF99FF"/>
<rect x="1068.76" y="718.80" width="15.26" height="77.40" fill="#6868FF"/>
<rect x="1068.76" y="668.70" width="15.26" height="50.10" fill="#D5D5FB"/>
<rect x="1084.22" y="1147.20" width="15.26" height="13.00" fill="#A9D18E"/>
<rect x="1084.22" y="1145.30" width="15.26" height="1.90" fill="#000000"/>
<rect x="1084.22" y="1113.30" width="15.26" height="32.00" fill="#548235"/>
<rect x="1084.22" y="723.10" width="15.26" height="390.20" fill="#808000"/>
<rect x="1084.22" y="714.30" width="15.26" height="8.80" fill="#FF99FF"/>
<rect x="1084.22" y="699.50" width="15.26" height="14.80" fill="#6868FF"/>
<rect x="1084.22" y="668.70" width="15.26" height="30.80" fill="#D5D5FB"/>
<rect x="1099.68" y="1078.50" width="15.26" height="81.70" fill="#A9D18E"/>
<rect x="1099.68" y="1059.40" width="15.26" height="19.10" fill="#548235"/>
<rect x="1099.68" y="814.00" width="15.26" height="245.40" fill="#808000"/>
<rect x="1099.68" y="765.10" width="15.26" height="48.90" fill="#FF99FF"/>
<rect x="1099.68" y="761.00" width="15.26" height="4.10" fill="#66FFCC"/>
<rect x="1099.68" y="714.30" width="15.26" height="46.70" fill="#6868FF"/>
<rect x="1099.68" y="668.70" width="15.26" height="45.60" fill="#D5D5FB"/>
<rect x="1115.14" y="1157.20" width="15.26" height="3.00" fill="#000000"/>
<rect x="1115.14" y="1105.10" width="15.26" height="52.10" fill="#548235"/>
<rect x="1115.14" y="1101.00" width="15.26" height="4.10" fill="#FF9933"/>
<rect x="1115.14" y="705.10" width="15.26" height="395.90" fill="#808000"/>
<rect x="1115.14" y="679.90" width="15.26" height="25.20" fill="#FF99FF"/>
<rect x="1115.14" y="674.70" width="15.26" height="5.20" fill="#6868FF"/>
<rect x="1115.14" y="668.70" width="15.26" height="6.00" fill="#D5D5FB"/>
<rect x="1130.60" y="1104.50" width="15.26" height="55.70" fill="#A9D18E"/>
<rect x="1130.60" y="1101.00" width="15.26" height="3.50" fill="#FFE699"/>
<rect x="1130.60" y="1004.10" width="15.26" height="96.90" fill="#548235"/>
<rect x="1130.60" y="701.00" width="15.26" height="303.10" fill="#808000"/>
<rect x="1130.60" y="689.80" width="15.26" height="11.20" fill="#FF99FF"/>
<rect x="1130.60" y="689.60" width="15.26" height="0.20" fill="#000000"/>
<rect x="1130.60" y="672.70" width="15.26" height="16.90" fill="#6868FF"/>
<rect x="1130.60" y="668.70" width="15.26" height="4.00" fill="#D5D5FB"/>
<rect x="1146.06" y="1124.30" width="15.26" height="35.90" fill="#A9D18E"/>
<rect x="1146.06" y="1051.80" width="15.26" height="72.50" fill="#FFE699"/>
<rect x="1146.06" y="990.80" width="15.26" height="61.00" fill="#548235"/>
<rect x="1146.06" y="741.90" width="15.26" height="248.90" fill="#808000"/>
<rect x="1146.06" y="727.20" width="15.26" height="14.70" fill="#FF99FF"/>
<rect x="1146.06" y="717.40" width="15.26" height="9.80" fill="#66FFCC"/>
<rect x="1146.06" y="712.80" width="15.26" height="4.60" fill="#6868FF"/>
<rect x="1146.06" y="668.70" width="15.26" height="44.10" fill="#D5D5FB"/>
<rect x="1161.52" y="1132.30" width="15.26" height="27.90" fill="#A9D18E"/>
<rect x="1161.52" y="1130.60" width="15.26" height="1.70" fill="#000000"/>
<rect x="1161.52" y="1007.80" width="15.26" height="122.80" fill="#548235"/>
<rect x="1161.52" y="1000.10" width="15.26" height="7.70" fill="#8FAADC"/>
<rect x="1161.52" y="998.40" width="15.26" height="1.70" fill="#000000"/>
<rect x="1161.52" y="761.40" width="15.26" height="237.00" fill="#808000"/>
<rect x="1161.52" y="752.80" width="15.26" height="8.60" fill="#FF99FF"/>
<rect x="1161.52" y="744.00" width="15.26" height="8.80" fill="#6868FF"/>
<rect x="1161.52" y="668.70" width="15.26" height="75.30" fill="#D5D5FB"/>
<rect x="1176.98" y="1152.60" width="15.26" height="7.60" fill="#A9D18E"/>
<rect x="1176.98" y="1143.40" width="15.26" height="9.20" fill="#FFE699"/>
<rect x="1176.98" y="1097.80" width="15.26" height="45.60" fill="#548235"/>
<rect x="1176.98" y="1094.70" width="15.26" height="3.10" fill="#000000"/>
<rect x="1176.98" y="743.60" width="15.26" height="351.10" fill="#808000"/>
<rect x="1176.98" y="724.50" width="15.26" height="19.10" fill="#FF99FF"/>
<rect x="1176.98" y="681.50" width="15.26" height="43.00" fill="#6868FF"/>
<rect x="1176.98" y="668.70" width="15.26" height="12.80" fill="#D5D5FB"/>
<rect x="1192.44" y="1128.60" width="15.26" height="31.60" fill="#A9D18E"/>
<rect x="1192.44" y="1036.30" width="15.26" height="92.30" fill="#548235"/>
<rect x="1192.44" y="1031.80" width="15.26" height="4.50" fill="#FF9933"/>
<rect x="1192.44" y="725.10" width="15.26" height="306.70" fill="#808000"/>
<rect x="1192.44" y="704.00" width="15.26" height="21.10" fill="#FF99FF"/>
<rect x="1192.44" y="676.00" width="15.26" height="28.00" fill="#6868FF"/>
<rect x="1192.44" y="668.70" width="15.26" height="7.30" fill="#D5D5FB"/>
<rect x="1207.90" y="1155.10" width="15.26" height="5.10" fill="#000000"/>
<rect x="1207.90" y="1138.70" width="15.26" height="16.40" fill="#548235"/>
<rect x="1207.90" y="1133.20" width="15.26" height="5.50" fill="#8FAADC"/>
<rect x="1207.90" y="727.60" width="15.26" height="405.60" fill="#808000"/>
<rect x="1207.90" y="724.50" width="15.26" height="3.10" fill="#FF99FF"/>
<rect x="1207.90" y="672.70" width="15.26" height="51.80" fill="#6868FF"/>
<rect x="1207.90" y="668.70" width="15.26" height="4.00" fill="#D5D5FB"/>
<rect x="1223.36" y="1136.60" width="15.26" height="23.60" fill="#A9D18E"/>
<rect x="1223.36" y="1131.10" width="15.26" height="5.50" fill="#FFE699"/>
<rect x="1223.36" y="1026.20" width="15.26" height="104.90" fill="#548235"/>
<rect x="1223.36" y="1021.00" width="15.26" height="5.20" fill="#8FAADC"/>
<rect x="1223.36" y="1020.40" width="15.26" height="0.60" fill="#000000"/>
<rect x="1223.36" y="741.30" width="15.26" height="279.10" fill="#808000"/>
<rect x="1223.36" y="713.70" width="15.26" height="27.60" fill="#FF99FF"/>
<rect x="1223.36" y="709.20" width="15.26" height="4.50" fill="#6868FF"/>
<rect x="1223.36" y="668.70" width="15.26" height="40.50" fill="#D5D5FB"/>
<rect x="1238.82" y="1154.80" width="15.26" height="5.40" fill="#FFE699"/>
<rect x="1238.82" y="1154.50" width="15.26" height="0.30" fill="#000000"/>
<rect x="1238.82" y="1145.60" width="15.26" height="8.90" fill="#548235"/>
<rect x="1238.82" y="1144.90" width="15.26" height="0.70" fill="#000000"/>
<rect x="1238.82" y="842.90" width="15.26" height="302.00" fill="#808000"/>
<rect x="1238.82" y="701.40" width="15.26" height="141.50" fill="#FF99FF"/>
<rect x="1238.82" y="670.40" width="15.26" height="31.00" fill="#6868FF"/>
<rect x="1238.82" y="668.70" width="15.26" height="1.70" fill="#000000"/>
<rect x="1254.28" y="1151.70" width="15.26" height="8.50" fill="#A9D18E"/>
<rect x="1254.28" y="1150.40" width="15.26" height="1.30" fill="#000000"/>
<rect x="1254.28" y="1063.50" width="15.26" height="86.90" fill="#548235"/>
<rect x="1254.28" y="1049.20" width="15.26" height="14.30" fill="#8FAADC"/>
<rect x="1254.28" y="917.00" width="15.26" height="132.20" fill="#808000"/>
<rect x="1254.28" y="770.20" width="15.26" height="146.80" fill="#FF99FF"/>
<rect x="1254.28" y="736.40" width="15.26" height="33.80" fill="#6868FF"/>
<rect x="1254.28" y="668.70" width="15.26" height="67.70" fill="#D5D5FB"/>
<rect x="1269.74" y="945.30" width="15.26" height="214.90" fill="#A9D18E"/>
<rect x="1269.74" y="941.60" width="15.26" height="3.70" fill="#FFE699"/>
<rect x="1269.74" y="932.40" width="15.26" height="9.20" fill="#548235"/>
<rect x="1269.74" y="925.80" width="15.26" height="6.60" fill="#FF9933"/>
<rect x="1269.74" y="924.50" width="15.26" height="1.30" fill="#000000"/>
<rect x="1269.74" y="824.50" width="15.26" height="100.00" fill="#FF99FF"/>
<rect x="1269.74" y="799.90" width="15.26" height="24.60" fill="#66FFCC"/>
<rect x="1269.74" y="777.80" width="15.26" height="22.10" fill="#6868FF"/>
<rect x="1269.74" y="668.70" width="15.26" height="109.10" fill="#D5D5FB"/>
<rect x="1285.20" y="1090.30" width="15.26" height="69.90" fill="#A9D18E"/>
<rect x="1285.20" y="1088.60" width="15.26" height="1.70" fill="#000000"/>
<rect x="1285.20" y="1056.30" width="15.26" height="32.30" fill="#548235"/>
<rect x="1285.20" y="1052.60" width="15.26" height="3.70" fill="#8FAADC"/>
<rect x="1285.20" y="994.90" width="15.26" height="57.70" fill="#808000"/>
<rect x="1285.20" y="881.20" width="15.26" height="113.70" fill="#FF99FF"/>
<rect x="1285.20" y="872.40" width="15.26" height="8.80" fill="#66FFCC"/>
<rect x="1285.20" y="724.50" width="15.26" height="147.90" fill="#6868FF"/>
<rect x="1285.20" y="668.70" width="15.26" height="55.80" fill="#D5D5FB"/>
<rect x="1300.66" y="1143.40" width="15.26" height="16.80" fill="#A9D18E"/>
<rect x="1300.66" y="1138.70" width="15.26" height="4.70" fill="#FFE699"/>
<rect x="1300.66" y="1107.50" width="15.26" height="31.20" fill="#548235"/>
<rect x="1300.66" y="1103.90" width="15.26" height="3.60" fill="#FF9933"/>
<rect x="1300.66" y="1083.00" width="15.26" height="20.90" fill="#808000"/>
<rect x="1300.66" y="786.50" width="15.26" height="296.50" fill="#FF99FF"/>
<rect x="1300.66" y="784.80" width="15.26" height="1.70" fill="#000000"/>
<rect x="1300.66" y="767.50" width="15.26" height="17.30" fill="#6868FF"/>
<rect x="1300.66" y="668.70" width="15.26" height="98.80" fill="#D5D5FB"/>
<rect x="1316.12" y="1157.60" width="15.26" height="2.60" fill="#000000"/>
<rect x="1316.12" y="1149.50" width="15.26" height="8.10" fill="#548235"/>
<rect x="1316.12" y="1120.90" width="15.26" height="28.60" fill="#808000"/>
<rect x="1316.12" y="1112.70" width="15.26" height="8.20" fill="#FF99FF"/>
<rect x="1316.12" y="668.70" width="15.26" height="444.00" fill="#D5D5FB"/>
</g>
<g stroke="#000" stroke-width="2" fill="none">
<path d="M890.60 668.70H1409.00V1160.20H890.60"/>
<path d="M898.60 668.70V1160.20"/>
<path d="M890.60 1111.05H898.60"/>
<path d="M890.60 1061.90H898.60"/>
<path d="M890.60 1012.75H898.60"/>
<path d="M890.60 963.60H898.60"/>
<path d="M890.60 914.45H898.60"/>
<path d="M890.60 865.30H898.60"/>
<path d="M890.60 816.15H898.60"/>
<path d="M890.60 767.00H898.60"/>
<path d="M890.60 717.85H898.60"/>
</g>
<g font-family="'Liberation Sans', Arial, sans-serif" font-size="27" text-anchor="end" fill="#000">
<text transform="translate(876.0 1169.6) scale(0.915 1)">0%</text>
<text transform="translate(876.0 1120.4) scale(0.915 1)">10%</text>
<text transform="translate(876.0 1071.3) scale(0.915 1)">20%</text>
<text transform="translate(876.0 1022.1) scale(0.915 1)">30%</text>
<text transform="translate(876.0 973.0) scale(0.915 1)">40%</text>
<text transform="translate(876.0 923.8) scale(0.915 1)">50%</text>
<text transform="translate(876.0 874.7) scale(0.915 1)">60%</text>
<text transform="translate(876.0 825.5) scale(0.915 1)">70%</text>
<text transform="translate(876.0 776.4) scale(0.915 1)">80%</text>
<text transform="translate(876.0 727.2) scale(0.915 1)">90%</text>
<text transform="translate(876.0 678.1) scale(0.915 1)">100%</text>
</g>
<g font-family="'Liberation Sans', Arial, sans-serif" font-size="31.2" font-weight="bold" fill="#000">
<text x="6.0" y="25.9">A</text><text x="746.6" y="25.9">B</text>
<text x="4.8" y="666.8">C</text><text x="746.6" y="667.3">D</text></g>
<text transform="translate(41.1 265.3) rotate(-90) scale(1.0 1)" font-family="'Liberation Sans', Arial, sans-serif" font-size="32.3" text-anchor="middle" fill="#000">Sequence reads</text>
<text transform="translate(778.5 252.3) rotate(-90) scale(1.0 1)" font-family="'Liberation Sans', Arial, sans-serif" font-size="32.3" text-anchor="middle" fill="#000">Sequence reads</text>
<text transform="translate(43.3 919.4) rotate(-90) scale(1.0 1)" font-family="'Liberation Sans', Arial, sans-serif" font-size="32.3" text-anchor="middle" fill="#000">Sequence reads</text>
<text transform="translate(786.1 919.4) rotate(-90) scale(1.0 1)" font-family="'Liberation Sans', Arial, sans-serif" font-size="32.3" text-anchor="middle" fill="#000">Sequence reads</text>
<text transform="translate(303.4 508.6) rotate(-90) scale(1.0 1)" font-family="'Liberation Sans', Arial, sans-serif" font-size="32" text-anchor="start" fill="#000">ND</text>
<text transform="translate(1385.0 1151.5) rotate(-90) scale(1.0 1)" font-family="'Liberation Sans', Arial, sans-serif" font-size="32" text-anchor="start" fill="#000">ND</text>
<text transform="translate(1295.7 582.5) rotate(-90) scale(0.965 1)" font-family="'Liberation Sans', Arial, sans-serif" font-size="26.5" text-anchor="start" fill="#000">0 m</text>
<text transform="translate(1330.2 598.3) rotate(-90) scale(0.965 1)" font-family="'Liberation Sans', Arial, sans-serif" font-size="26.5" text-anchor="start" fill="#000">10 m</text>
<text transform="translate(1364.4 605.8) rotate(-90) scale(0.965 1)" font-family="'Liberation Sans', Arial, sans-serif" font-size="26.5" text-anchor="start" fill="#000">100 m</text>
<text transform="translate(1397.6 600.7) rotate(-90) scale(0.965 1)" font-family="'Liberation Sans', Arial, sans-serif" font-size="26.5" text-anchor="start" fill="#000">SCM</text>
<text transform="translate(642.7 1219.4) rotate(-90) scale(1.0 1)" font-family="'Liberation Sans', Arial, sans-serif" font-size="24.4" text-anchor="start" fill="#000">0 m</text>
<text transform="translate(666.3 1234.5) rotate(-90) scale(1.0 1)" font-family="'Liberation Sans', Arial, sans-serif" font-size="24.4" text-anchor="start" fill="#000">10 m</text>
<text transform="translate(689.6 1242.0) rotate(-90) scale(1.0 1)" font-family="'Liberation Sans', Arial, sans-serif" font-size="24.4" text-anchor="start" fill="#000">100 m</text>
<text transform="translate(713.8 1236.4) rotate(-90) scale(1.0 1)" font-family="'Liberation Sans', Arial, sans-serif" font-size="24.4" text-anchor="start" fill="#000">SCM</text>
<text transform="translate(229.9 552.0) rotate(-30)" font-family="'Liberation Sans', Arial, sans-serif" font-size="25.7" text-anchor="end" fill="#000" font-style="italic">E. hemigibba</text>
<text transform="translate(299.4 556.3) rotate(-30)" font-family="'Liberation Sans', Arial, sans-serif" font-size="25.7" text-anchor="end" fill="#000">St. 3</text>
<text transform="translate(395.8 549.2) rotate(-30)" font-family="'Liberation Sans', Arial, sans-serif" font-size="25.7" text-anchor="end" fill="#000" font-style="italic">E. brevis</text>
<text transform="translate(476.1 548.6) rotate(-30)" font-family="'Liberation Sans', Arial, sans-serif" font-size="25.7" text-anchor="end" fill="#000">St. 2</text>
<text transform="translate(562.8 548.0) rotate(-30)" font-family="'Liberation Sans', Arial, sans-serif" font-size="25.7" text-anchor="end" fill="#000" font-style="italic">E. pacifica</text>
<text transform="translate(644.0 549.0) rotate(-30)" font-family="'Liberation Sans', Arial, sans-serif" font-size="25.7" text-anchor="end" fill="#000">St.1</text>
<g font-family="'Liberation Sans', Arial, sans-serif" font-size="32.85" fill="#000">
<rect x="1499.8" y="301.7" width="15.8" height="16.4" fill="#D5D5FB" stroke="#000" stroke-width="1.4"/>
<text x="1522.8" y="318.7">Hydrozoa</text>
<rect x="1499.8" y="344.8" width="15.8" height="16.4" fill="#6868FF" stroke="#000" stroke-width="1.4"/>
<text x="1522.8" y="361.8">Copepoda</text>
<rect x="1499.8" y="388.0" width="15.8" height="16.4" fill="#66FFCC" stroke="#000" stroke-width="1.4"/>
<text x="1522.8" y="405.0">other Arthropoda</text>
<rect x="1499.8" y="431.1" width="15.8" height="16.4" fill="#FF99FF" stroke="#000" stroke-width="1.4"/>
<text x="1522.8" y="448.1">other Metazoa</text>
<rect x="1499.8" y="474.3" width="15.8" height="16.4" fill="#7030A0" stroke="#000" stroke-width="1.4"/>
<text x="1522.8" y="491.3">Choanoflagellida</text>
<rect x="1499.8" y="517.5" width="15.8" height="16.4" fill="#808000" stroke="#000" stroke-width="1.4"/>
<text x="1522.8" y="534.5">Dinophyta</text>
<rect x="1499.8" y="560.6" width="15.8" height="16.4" fill="#FF9933" stroke="#000" stroke-width="1.4"/>
<text x="1522.8" y="577.6">Ciliophora</text>
<rect x="1499.8" y="603.8" width="15.8" height="16.4" fill="#8FAADC" stroke="#000" stroke-width="1.4"/>
<text x="1522.8" y="620.8">other Alveolata</text>
<rect x="1499.8" y="646.9" width="15.8" height="16.4" fill="#548235" stroke="#000" stroke-width="1.4"/>
<text x="1522.8" y="663.9">Stramenopiles</text>
<rect x="1499.8" y="690.0" width="15.8" height="16.4" fill="#FFE699" stroke="#000" stroke-width="1.4"/>
<text x="1522.8" y="707.0">Rhizaria</text>
<rect x="1499.8" y="733.2" width="15.8" height="16.4" fill="#70F57A" stroke="#000" stroke-width="1.4"/>
<text x="1522.8" y="750.2">Picozoa</text>
<rect x="1499.8" y="776.3" width="15.8" height="16.4" fill="#007B7B" stroke="#000" stroke-width="1.4"/>
<text x="1522.8" y="793.3">Hacrobia</text>
<rect x="1499.8" y="819.5" width="15.8" height="16.4" fill="#FF0000" stroke="#000" stroke-width="1.4"/>
<text x="1522.8" y="836.5">Excavata</text>
<rect x="1499.8" y="862.6" width="15.8" height="16.4" fill="#A9D18E" stroke="#000" stroke-width="1.4"/>
<text x="1522.8" y="879.6">Archaeplastida</text>
</g>
</svg>
</body></html>
